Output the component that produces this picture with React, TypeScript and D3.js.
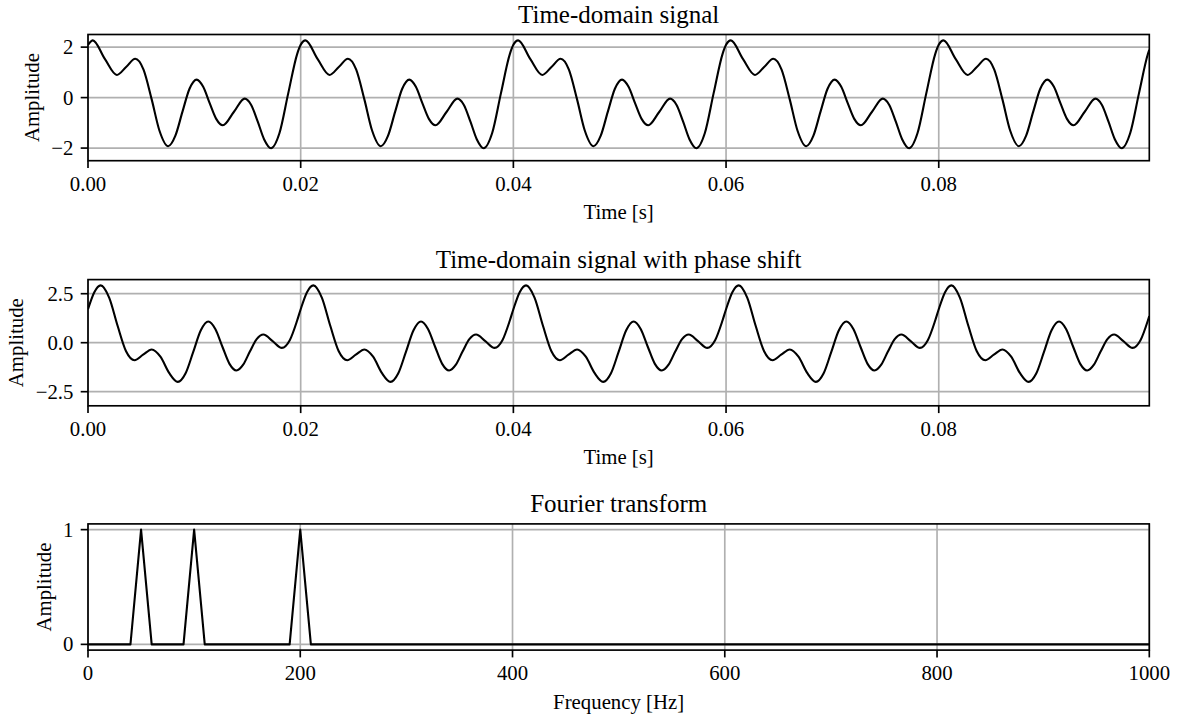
import React from "react";
import * as d3 from "d3";

// ---------------------------------------------------------------------------
// Data
// ---------------------------------------------------------------------------

// Time-domain signal: [time (s), amplitude], extrema and in-between samples
const timeSignal: [number, number][] = [
  [0.000000, 2.090], [0.000453, 2.269], [0.001583, 1.535], [0.002717, 0.898], [0.003583, 1.212], [0.004444, 1.541], [0.005222, 1.110], [0.005989, -0.070], [0.006722, -1.313], [0.007539, -1.925], [0.008208, -1.519], [0.008878, -0.567], [0.009547, 0.351], [0.010217, 0.714], [0.010833, 0.427], [0.011450, -0.230], [0.012056, -0.844], [0.012683, -1.098], [0.013711, -0.572], [0.014736, -0.042], [0.015333, -0.281], [0.015972, -0.963], [0.016556, -1.647], [0.017211, -2.004], [0.018000, -1.413], [0.018833, 0.177], [0.019667, 1.725],
  [0.020000, 2.090], [0.020453, 2.269], [0.021583, 1.535], [0.022717, 0.898], [0.023583, 1.212], [0.024444, 1.541], [0.025222, 1.110], [0.025989, -0.070], [0.026722, -1.313], [0.027539, -1.925], [0.028208, -1.519], [0.028878, -0.567], [0.029547, 0.351], [0.030217, 0.714], [0.030833, 0.427], [0.031450, -0.230], [0.032056, -0.844], [0.032683, -1.098], [0.033711, -0.572], [0.034736, -0.042], [0.035333, -0.281], [0.035972, -0.963], [0.036556, -1.647], [0.037211, -2.004], [0.038000, -1.413], [0.038833, 0.177], [0.039667, 1.725],
  [0.040000, 2.090], [0.040453, 2.269], [0.041583, 1.535], [0.042717, 0.898], [0.043583, 1.212], [0.044444, 1.541], [0.045222, 1.110], [0.045989, -0.070], [0.046722, -1.313], [0.047539, -1.925], [0.048208, -1.519], [0.048878, -0.567], [0.049547, 0.351], [0.050217, 0.714], [0.050833, 0.427], [0.051450, -0.230], [0.052056, -0.844], [0.052683, -1.098], [0.053711, -0.572], [0.054736, -0.042], [0.055333, -0.281], [0.055972, -0.963], [0.056556, -1.647], [0.057211, -2.004], [0.058000, -1.413], [0.058833, 0.177], [0.059667, 1.725],
  [0.060000, 2.090], [0.060453, 2.269], [0.061583, 1.535], [0.062717, 0.898], [0.063583, 1.212], [0.064444, 1.541], [0.065222, 1.110], [0.065989, -0.070], [0.066722, -1.313], [0.067539, -1.925], [0.068208, -1.519], [0.068878, -0.567], [0.069547, 0.351], [0.070217, 0.714], [0.070833, 0.427], [0.071450, -0.230], [0.072056, -0.844], [0.072683, -1.098], [0.073711, -0.572], [0.074736, -0.042], [0.075333, -0.281], [0.075972, -0.963], [0.076556, -1.647], [0.077211, -2.004], [0.078000, -1.413], [0.078833, 0.177], [0.079667, 1.725],
  [0.080000, 2.090], [0.080453, 2.269], [0.081583, 1.535], [0.082717, 0.898], [0.083583, 1.212], [0.084444, 1.541], [0.085222, 1.110], [0.085989, -0.070], [0.086722, -1.313], [0.087539, -1.925], [0.088208, -1.519], [0.088878, -0.567], [0.089547, 0.351], [0.090217, 0.714], [0.090833, 0.427], [0.091450, -0.230], [0.092056, -0.844], [0.092683, -1.098], [0.093711, -0.572], [0.094736, -0.042], [0.095333, -0.281], [0.095972, -0.963], [0.096556, -1.647], [0.097211, -2.004], [0.098000, -1.413], [0.098833, 0.177], [0.099667, 1.725],
  [0.099800, 1.894],
];

// Same components with shifted phases: [time (s), amplitude]
const shiftedSignal: [number, number][] = [
  [0.000000, 1.707], [0.000594, 2.578], [0.001192, 2.927], [0.001989, 2.304], [0.002783, 0.864], [0.003578, -0.437], [0.004376, -0.895], [0.005183, -0.613], [0.005992, -0.346], [0.006811, -0.716], [0.007628, -1.543], [0.008444, -2.001], [0.009167, -1.573], [0.009889, -0.483], [0.010611, 0.634], [0.011314, 1.080], [0.011972, 0.700], [0.012639, -0.206], [0.013306, -1.080], [0.013958, -1.418], [0.014594, -1.121], [0.015222, -0.453], [0.015861, 0.180], [0.016492, 0.417], [0.017361, 0.083], [0.018232, -0.265], [0.018972, 0.126], [0.019667, 1.132],
  [0.020000, 1.707], [0.020594, 2.578], [0.021192, 2.927], [0.021989, 2.304], [0.022783, 0.864], [0.023578, -0.437], [0.024376, -0.895], [0.025183, -0.613], [0.025992, -0.346], [0.026811, -0.716], [0.027628, -1.543], [0.028444, -2.001], [0.029167, -1.573], [0.029889, -0.483], [0.030611, 0.634], [0.031314, 1.080], [0.031972, 0.700], [0.032639, -0.206], [0.033306, -1.080], [0.033958, -1.418], [0.034594, -1.121], [0.035222, -0.453], [0.035861, 0.180], [0.036492, 0.417], [0.037361, 0.083], [0.038232, -0.265], [0.038972, 0.126], [0.039667, 1.132],
  [0.040000, 1.707], [0.040594, 2.578], [0.041192, 2.927], [0.041989, 2.304], [0.042783, 0.864], [0.043578, -0.437], [0.044376, -0.895], [0.045183, -0.613], [0.045992, -0.346], [0.046811, -0.716], [0.047628, -1.543], [0.048444, -2.001], [0.049167, -1.573], [0.049889, -0.483], [0.050611, 0.634], [0.051314, 1.080], [0.051972, 0.700], [0.052639, -0.206], [0.053306, -1.080], [0.053958, -1.418], [0.054594, -1.121], [0.055222, -0.453], [0.055861, 0.180], [0.056492, 0.417], [0.057361, 0.083], [0.058232, -0.265], [0.058972, 0.126], [0.059667, 1.132],
  [0.060000, 1.707], [0.060594, 2.578], [0.061192, 2.927], [0.061989, 2.304], [0.062783, 0.864], [0.063578, -0.437], [0.064376, -0.895], [0.065183, -0.613], [0.065992, -0.346], [0.066811, -0.716], [0.067628, -1.543], [0.068444, -2.001], [0.069167, -1.573], [0.069889, -0.483], [0.070611, 0.634], [0.071314, 1.080], [0.071972, 0.700], [0.072639, -0.206], [0.073306, -1.080], [0.073958, -1.418], [0.074594, -1.121], [0.075222, -0.453], [0.075861, 0.180], [0.076492, 0.417], [0.077361, 0.083], [0.078232, -0.265], [0.078972, 0.126], [0.079667, 1.132],
  [0.080000, 1.707], [0.080594, 2.578], [0.081192, 2.927], [0.081989, 2.304], [0.082783, 0.864], [0.083578, -0.437], [0.084376, -0.895], [0.085183, -0.613], [0.085992, -0.346], [0.086811, -0.716], [0.087628, -1.543], [0.088444, -2.001], [0.089167, -1.573], [0.089889, -0.483], [0.090611, 0.634], [0.091314, 1.080], [0.091972, 0.700], [0.092639, -0.206], [0.093306, -1.080], [0.093958, -1.418], [0.094594, -1.121], [0.095222, -0.453], [0.095861, 0.180], [0.096492, 0.417], [0.097361, 0.083], [0.098232, -0.265], [0.098972, 0.126], [0.099667, 1.132],
  [0.099800, 1.362],
];

// Magnitude spectrum (10 Hz bins; all bins not listed are zero)
const spectrumFreq = [0, 40, 50, 60, 90, 100, 110, 190, 200, 210, 1000];
const spectrumAmp = [0, 0, 1, 0, 0, 1, 0, 0, 1, 0, 0];

// Ticks
const timeTicks = [0, 0.02, 0.04, 0.06, 0.08];
const timeTickLabels = ["0.00", "0.02", "0.04", "0.06", "0.08"];
const ampTicksA = [-2, 0, 2];
const ampTickLabelsA = ["\u22122", "0", "2"];
const ampTicksB = [-2.5, 0, 2.5];
const ampTickLabelsB = ["\u22122.5", "0.0", "2.5"];
const freqTicks = [0, 200, 400, 600, 800, 1000];
const freqTickLabels = ["0", "200", "400", "600", "800", "1000"];
const specTicks = [0, 1];
const specTickLabels = ["0", "1"];

// ---------------------------------------------------------------------------
// Layout
// ---------------------------------------------------------------------------
const WIDTH = 1178;
const HEIGHT = 717;
const FONT = "'Liberation Serif', 'Times New Roman', Times, serif";
const LEFT = 88;
const RIGHT = 1149.3;
const PANEL_H = 126.2;
const TICK = 7.3;
const SPINE_W = 1.67;
const GRID = "#b0b0b0";
const LABEL_SIZE = 20.8;
const TITLE_SIZE = 25;

type PanelProps = {
  id: string;
  top: number;
  title: string;
  xLabel: string;
  yLabelX: number;
  xDomain: [number, number];
  yDomain: [number, number];
  xTicks: number[];
  xTickLabels: string[];
  yTicks: number[];
  yTickLabels: string[];
  points: [number, number][];
  smooth: boolean;
};

function Panel(p: PanelProps) {
  const bottom = p.top + PANEL_H;
  const x = d3.scaleLinear().domain(p.xDomain).range([LEFT, RIGHT]);
  const y = d3.scaleLinear().domain(p.yDomain).range([bottom, p.top]);
  const line = d3
    .line<[number, number]>()
    .x((d) => x(d[0]))
    .y((d) => y(d[1]))
    .curve(p.smooth ? d3.curveMonotoneX : d3.curveLinear);
  const cx = (LEFT + RIGHT) / 2;
  const cy = (p.top + bottom) / 2;

  return (
    <g>
      <defs>
        <clipPath id={p.id}>
          <rect x={LEFT} y={p.top} width={RIGHT - LEFT} height={PANEL_H} />
        </clipPath>
      </defs>
      {/* grid */}
      {p.xTicks.map((t) => (
        <line key={"gx" + t} x1={x(t)} x2={x(t)} y1={p.top} y2={bottom} stroke={GRID} strokeWidth={SPINE_W} />
      ))}
      {p.yTicks.map((t) => (
        <line key={"gy" + t} x1={LEFT} x2={RIGHT} y1={y(t)} y2={y(t)} stroke={GRID} strokeWidth={SPINE_W} />
      ))}
      {/* data */}
      <path
        d={line(p.points) || ""}
        fill="none"
        stroke="#000"
        strokeWidth={2.1}
        strokeLinejoin="round"
        clipPath={`url(#${p.id})`}
      />
      {/* spines */}
      <rect x={LEFT} y={p.top} width={RIGHT - LEFT} height={PANEL_H} fill="none" stroke="#000" strokeWidth={SPINE_W} />
      {/* x ticks */}
      {p.xTicks.map((t, i) => (
        <g key={"xt" + t}>
          <line x1={x(t)} x2={x(t)} y1={bottom} y2={bottom + TICK} stroke="#000" strokeWidth={SPINE_W} />
          <text x={x(t)} y={bottom + 30} textAnchor="middle" fontSize={LABEL_SIZE}>
            {p.xTickLabels[i]}
          </text>
        </g>
      ))}
      {/* y ticks */}
      {p.yTicks.map((t, i) => (
        <g key={"yt" + t}>
          <line x1={LEFT - TICK} x2={LEFT} y1={y(t)} y2={y(t)} stroke="#000" strokeWidth={SPINE_W} />
          <text x={LEFT - TICK - 7.3} y={y(t)} dy="0.34em" textAnchor="end" fontSize={LABEL_SIZE}>
            {p.yTickLabels[i]}
          </text>
        </g>
      ))}
      {/* labels */}
      <text x={cx} y={p.top - 11.5} textAnchor="middle" fontSize={TITLE_SIZE}>
        {p.title}
      </text>
      <text x={cx} y={bottom + 58.5} textAnchor="middle" fontSize={LABEL_SIZE}>
        {p.xLabel}
      </text>
      <text
        x={p.yLabelX}
        y={cy}
        textAnchor="middle"
        fontSize={LABEL_SIZE}
        transform={`rotate(-90, ${p.yLabelX}, ${cy})`}
      >
        Amplitude
      </text>
    </g>
  );
}

export default function App() {
  const spectrum: [number, number][] = spectrumFreq.map((f, i) => [f, spectrumAmp[i]]);
  return (
    <svg
      width={WIDTH}
      height={HEIGHT}
      viewBox={`0 0 ${WIDTH} ${HEIGHT}`}
      style={{ position: "absolute", left: 0, top: 0, background: "#fff" }}
      fontFamily={FONT}
      fill="#000"
    >
      <rect x={0} y={0} width={WIDTH} height={HEIGHT} fill="#fff" />
      <Panel
        id="clip-a"
        top={34.5}
        title="Time-domain signal"
        xLabel="Time [s]"
        yLabelX={39.3}
        xDomain={[0, 0.0998]}
        yDomain={[-2.5, 2.5]}
        xTicks={timeTicks}
        xTickLabels={timeTickLabels}
        yTicks={ampTicksA}
        yTickLabels={ampTickLabelsA}
        points={timeSignal}
        smooth
      />
      <Panel
        id="clip-b"
        top={279.6}
        title="Time-domain signal with phase shift"
        xLabel="Time [s]"
        yLabelX={23.3}
        xDomain={[0, 0.0998]}
        yDomain={[-3.22, 3.22]}
        xTicks={timeTicks}
        xTickLabels={timeTickLabels}
        yTicks={ampTicksB}
        yTickLabels={ampTickLabelsB}
        points={shiftedSignal}
        smooth
      />
      <Panel
        id="clip-c"
        top={523.9}
        title="Fourier transform"
        xLabel="Frequency [Hz]"
        yLabelX={50.7}
        xDomain={[0, 1000]}
        yDomain={[-0.05, 1.05]}
        xTicks={freqTicks}
        xTickLabels={freqTickLabels}
        yTicks={specTicks}
        yTickLabels={specTickLabels}
        points={spectrum}
        smooth={false}
      />
    </svg>
  );
}
